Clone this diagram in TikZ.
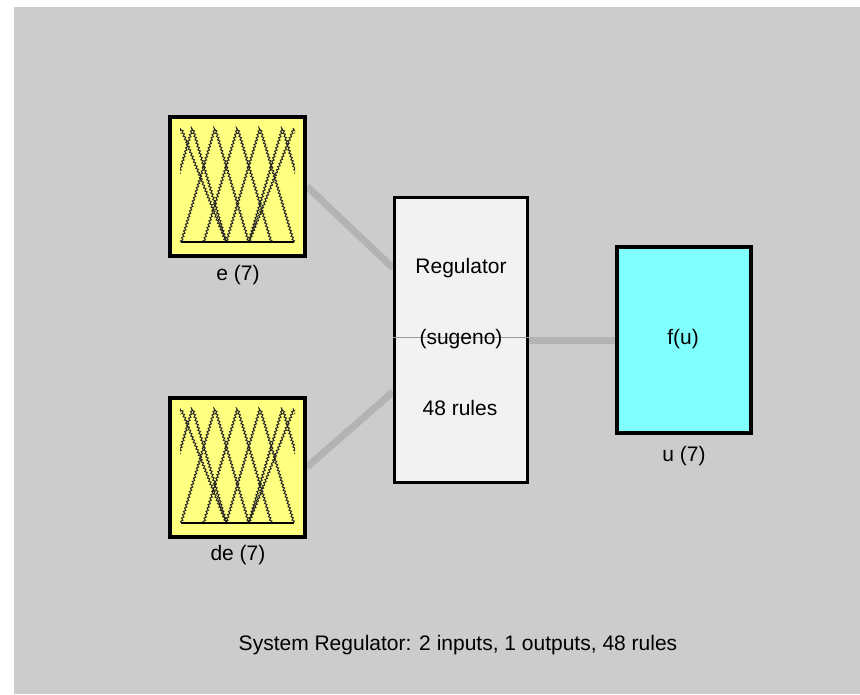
\documentclass[tikz,border=0pt]{standalone}
\usepackage{fontspec}
\setmainfont{Liberation Sans}
\usetikzlibrary{calc,backgrounds,decorations.pathmorphing}

\definecolor{panelgray}{HTML}{CCCCCC}
\definecolor{wiregray}{HTML}{B3B3B3}
\definecolor{thingray}{HTML}{9A9A9A}
\definecolor{mfyellow}{HTML}{FFFF80}
\definecolor{outcyan}{HTML}{80FFFF}
\definecolor{rulefill}{HTML}{F2F2F2}

\tikzset{
  inbox/.style={draw=black, line width=3pt, fill=mfyellow, inner sep=0pt,
    minimum width=101.25pt, minimum height=104.25pt},
  rulebox/.style={draw=black, line width=2.25pt, fill=rulefill, inner sep=0pt,
    minimum width=99.75pt, minimum height=213.75pt},
  outbox/.style={draw=black, line width=3pt, fill=outcyan, inner sep=0pt,
    minimum width=100.5pt, minimum height=139.5pt},
  wire/.style={draw=wiregray, line width=5.25pt},
  mfline/.style={draw=black!85, line width=0.75pt,
    decorate, decoration={zigzag, segment length=2.6pt, amplitude=0.75pt}},
  mfbase/.style={draw=black, line width=1.5pt},
  txt/.style={inner sep=0pt}
}

\begin{document}
\begin{tikzpicture}[x=0.75pt, y=-0.75pt, font=\fontsize{15.75}{18}\selectfont]
\useasboundingbox (0,0) rectangle (860,694);

% blocks
\node[inbox] (e) at (237.5,186.5) {};
\node[inbox] (de) at (237.5,467) {};
\node[rulebox] (reg) at (461,340) {};
\node[outbox] (u) at (684,340) {};

% membership functions
\foreach \b in {e,de} {
  \begin{scope}[shift={(\b.center)}]
    \clip (-57.5,-60) rectangle (57.5,56);
    \foreach \p/\h in {-56.5/45, -45/33.75, -22.5/33.75, 0/33.75, 22.5/33.75, 45/33.75, 56.5/45}
      \draw[mfline] (\p-\h,55.5) -- (\p,-58.5) -- (\p+\h,55.5);
  \end{scope}
  \draw[mfbase] ($(\b.center)+(-56.5,55.5)$) -- ($(\b.center)+(56.5,55.5)$);
}

% texts
\node[txt] (regname) at (461,268) {Regulator};
\draw[thingray, line width=0.6pt] ([yshift=2.25pt]reg.west) -- ([yshift=2.25pt]reg.east);
\node[txt] (regtype) at (461,339) {(sugeno)};
\node[txt] (regrules) at (460,408) {48 rules};
\node[txt] (uname) at (683,339) {f(u)};

\node[txt] (elbl) at (238,275) {e (7)};
\node[txt] (delbl) at (238,555) {de (7)};
\node[txt] (ulbl) at (684,456) {u (7)};

\node[txt] (summary) at (458,645) {System Regulator: 2 inputs, 1 outputs, 48 rules};

% panel and connections
\begin{scope}[on background layer]
  \fill[white] (0,0) rectangle (860,694);
  \fill[panelgray] (14,7) rectangle (860,694);
  \draw[wire] (e.east) -- ($(reg.north west)!0.25!(reg.south west)$);
  \draw[wire] (de.east) -- ($(reg.north west)!0.68!(reg.south west)$);
  \draw[wire] (reg.east) -- (u.west);
\end{scope}
\end{tikzpicture}
\end{document}
